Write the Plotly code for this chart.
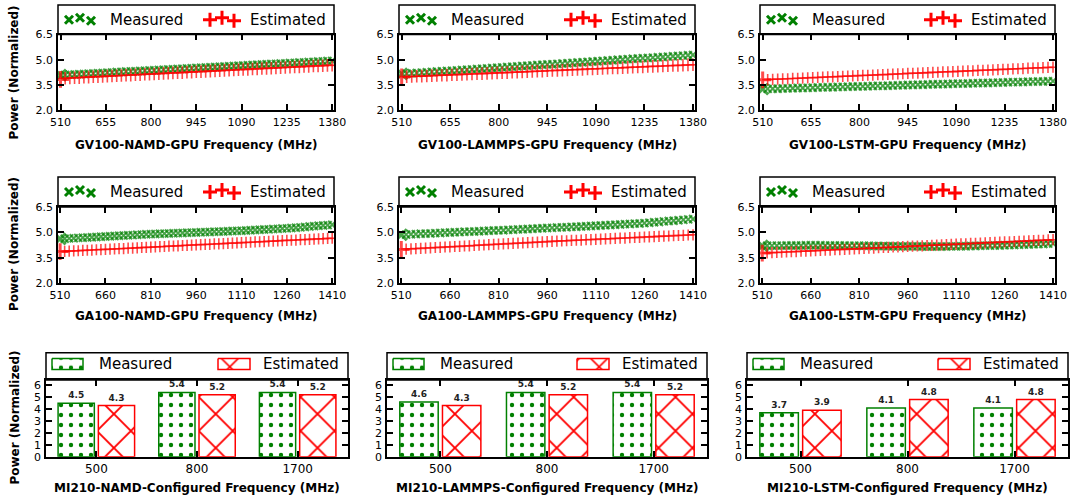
import plotly.graph_objects as go

W, H = 1072, 502
GREEN = "#008000"
RED = "#ff0000"
FONT = "DejaVu Sans"

# ---------------- data ----------------
gv100_freq = [510, 525, 540, 555, 570, 585, 600, 615, 630, 645,
              660, 675, 690, 705, 720, 735, 750, 765, 780, 795,
              810, 825, 840, 855, 870, 885, 900, 915, 930, 945,
              960, 975, 990, 1005, 1020, 1035, 1050, 1065, 1080, 1095,
              1110, 1125, 1140, 1155, 1170, 1185, 1200, 1215, 1230, 1245,
              1260, 1275, 1290, 1305, 1320, 1335, 1350, 1365, 1380]

gv100_namd_meas = [4.08, 4.09, 4.11, 4.12, 4.14, 4.15, 4.17, 4.18, 4.20, 4.21,
                   4.23, 4.24, 4.26, 4.27, 4.29, 4.30, 4.31, 4.33, 4.34, 4.36,
                   4.37, 4.39, 4.40, 4.42, 4.43, 4.45, 4.46, 4.48, 4.49, 4.51,
                   4.52, 4.53, 4.55, 4.56, 4.58, 4.59, 4.61, 4.62, 4.64, 4.65,
                   4.67, 4.68, 4.70, 4.71, 4.73, 4.74, 4.75, 4.77, 4.78, 4.80,
                   4.81, 4.83, 4.84, 4.86, 4.87, 4.89, 4.90, 4.92, 4.93]
gv100_namd_est = [3.82, 3.89, 3.91, 3.92, 3.93, 3.95, 3.96, 3.98, 3.99, 4.00,
                  4.02, 4.03, 4.04, 4.06, 4.07, 4.08, 4.10, 4.11, 4.13, 4.14,
                  4.15, 4.17, 4.18, 4.19, 4.21, 4.22, 4.23, 4.25, 4.26, 4.28,
                  4.29, 4.30, 4.32, 4.33, 4.34, 4.36, 4.37, 4.38, 4.40, 4.41,
                  4.42, 4.44, 4.45, 4.47, 4.48, 4.49, 4.51, 4.52, 4.53, 4.55,
                  4.56, 4.57, 4.59, 4.60, 4.62, 4.63, 4.64, 4.66, 4.67]

gv100_lammps_meas = [4.15, 4.17, 4.19, 4.21, 4.23, 4.25, 4.27, 4.29, 4.31, 4.33,
                     4.34, 4.36, 4.38, 4.40, 4.42, 4.44, 4.46, 4.48, 4.50, 4.52,
                     4.54, 4.56, 4.58, 4.60, 4.62, 4.64, 4.66, 4.68, 4.70, 4.72,
                     4.73, 4.75, 4.77, 4.79, 4.81, 4.83, 4.85, 4.87, 4.89, 4.91,
                     4.93, 4.95, 4.97, 4.99, 5.01, 5.03, 5.05, 5.07, 5.09, 5.10,
                     5.12, 5.14, 5.16, 5.18, 5.20, 5.22, 5.24, 5.26, 5.28]
gv100_lammps_est = [3.97, 3.98, 4.00, 4.01, 4.02, 4.03, 4.05, 4.06, 4.07, 4.08,
                    4.10, 4.11, 4.12, 4.13, 4.15, 4.16, 4.17, 4.18, 4.20, 4.21,
                    4.22, 4.23, 4.25, 4.26, 4.27, 4.28, 4.30, 4.31, 4.32, 4.34,
                    4.35, 4.36, 4.37, 4.39, 4.40, 4.41, 4.42, 4.44, 4.45, 4.46,
                    4.47, 4.49, 4.50, 4.51, 4.52, 4.54, 4.55, 4.56, 4.57, 4.59,
                    4.60, 4.61, 4.62, 4.64, 4.65, 4.66, 4.67, 4.69, 4.70]

gv100_lstm_meas = [3.25, 3.26, 3.27, 3.27, 3.28, 3.29, 3.30, 3.31, 3.31, 3.32,
                   3.33, 3.34, 3.35, 3.36, 3.36, 3.37, 3.38, 3.39, 3.40, 3.40,
                   3.41, 3.42, 3.43, 3.44, 3.44, 3.45, 3.46, 3.47, 3.48, 3.49,
                   3.49, 3.50, 3.51, 3.52, 3.53, 3.53, 3.54, 3.55, 3.56, 3.57,
                   3.57, 3.58, 3.59, 3.60, 3.61, 3.61, 3.62, 3.63, 3.64, 3.65,
                   3.66, 3.66, 3.67, 3.68, 3.69, 3.70, 3.70, 3.71, 3.72]
gv100_lstm_est = [3.80, 3.81, 3.83, 3.84, 3.85, 3.86, 3.88, 3.89, 3.90, 3.92,
                  3.93, 3.94, 3.96, 3.97, 3.98, 3.99, 4.01, 4.02, 4.03, 4.05,
                  4.06, 4.07, 4.08, 4.10, 4.11, 4.12, 4.14, 4.15, 4.16, 4.18,
                  4.19, 4.20, 4.21, 4.23, 4.24, 4.25, 4.27, 4.28, 4.29, 4.30,
                  4.32, 4.33, 4.34, 4.36, 4.37, 4.38, 4.39, 4.41, 4.42, 4.43,
                  4.45, 4.46, 4.47, 4.49, 4.50, 4.51, 4.52, 4.54, 4.55]

ga100_freq = [510, 525, 540, 555, 570, 585, 600, 615, 630, 645,
              660, 675, 690, 705, 720, 735, 750, 765, 780, 795,
              810, 825, 840, 855, 870, 885, 900, 915, 930, 945,
              960, 975, 990, 1005, 1020, 1035, 1050, 1065, 1080, 1095,
              1110, 1125, 1140, 1155, 1170, 1185, 1200, 1215, 1230, 1245,
              1260, 1275, 1290, 1305, 1320, 1335, 1350, 1365, 1380, 1395,
              1410]

ga100_namd_meas = [4.62, 4.63, 4.65, 4.66, 4.68, 4.69, 4.70, 4.72, 4.73, 4.75,
                   4.76, 4.77, 4.79, 4.80, 4.82, 4.83, 4.84, 4.86, 4.87, 4.89,
                   4.90, 4.91, 4.92, 4.93, 4.94, 4.95, 4.96, 4.97, 4.98, 4.99,
                   5.00, 5.01, 5.02, 5.03, 5.04, 5.05, 5.06, 5.07, 5.08, 5.09,
                   5.10, 5.11, 5.13, 5.14, 5.16, 5.17, 5.18, 5.20, 5.21, 5.23,
                   5.24, 5.26, 5.28, 5.30, 5.32, 5.35, 5.37, 5.39, 5.41, 5.43,
                   5.45]
ga100_namd_est = [3.87, 3.88, 3.90, 3.91, 3.92, 3.94, 3.95, 3.96, 3.98, 3.99,
                  4.00, 4.01, 4.03, 4.04, 4.05, 4.07, 4.08, 4.09, 4.11, 4.12,
                  4.13, 4.15, 4.16, 4.17, 4.19, 4.20, 4.21, 4.23, 4.24, 4.25,
                  4.27, 4.28, 4.29, 4.30, 4.32, 4.33, 4.34, 4.36, 4.37, 4.38,
                  4.40, 4.41, 4.42, 4.44, 4.45, 4.46, 4.48, 4.49, 4.50, 4.52,
                  4.53, 4.54, 4.55, 4.57, 4.58, 4.59, 4.61, 4.62, 4.63, 4.65,
                  4.66]

ga100_lammps_meas = [4.86, 4.87, 4.89, 4.90, 4.92, 4.93, 4.94, 4.96, 4.97, 4.99,
                     5.00, 5.01, 5.02, 5.04, 5.05, 5.06, 5.07, 5.08, 5.10, 5.11,
                     5.12, 5.13, 5.15, 5.16, 5.18, 5.19, 5.20, 5.22, 5.23, 5.25,
                     5.26, 5.27, 5.29, 5.30, 5.31, 5.33, 5.34, 5.35, 5.36, 5.38,
                     5.39, 5.41, 5.42, 5.44, 5.45, 5.47, 5.49, 5.50, 5.52, 5.53,
                     5.55, 5.57, 5.60, 5.62, 5.65, 5.67, 5.69, 5.72, 5.74, 5.77,
                     5.79]
ga100_lammps_est = [4.00, 4.02, 4.03, 4.05, 4.06, 4.08, 4.09, 4.11, 4.12, 4.14,
                    4.15, 4.17, 4.18, 4.20, 4.21, 4.23, 4.25, 4.26, 4.28, 4.29,
                    4.31, 4.32, 4.34, 4.35, 4.37, 4.38, 4.40, 4.41, 4.43, 4.44,
                    4.46, 4.47, 4.49, 4.50, 4.51, 4.53, 4.54, 4.55, 4.57, 4.58,
                    4.59, 4.61, 4.62, 4.63, 4.65, 4.66, 4.67, 4.69, 4.70, 4.71,
                    4.73, 4.74, 4.75, 4.77, 4.78, 4.79, 4.81, 4.82, 4.83, 4.85,
                    4.86]

ga100_lstm_meas = [4.21, 4.21, 4.22, 4.22, 4.22, 4.23, 4.23, 4.23, 4.23, 4.24,
                   4.24, 4.24, 4.24, 4.23, 4.23, 4.23, 4.23, 4.23, 4.22, 4.22,
                   4.22, 4.21, 4.21, 4.20, 4.20, 4.20, 4.19, 4.19, 4.18, 4.18,
                   4.18, 4.18, 4.18, 4.17, 4.17, 4.17, 4.17, 4.17, 4.17, 4.18,
                   4.18, 4.19, 4.19, 4.20, 4.20, 4.21, 4.22, 4.22, 4.23, 4.23,
                   4.24, 4.25, 4.26, 4.27, 4.28, 4.29, 4.30, 4.31, 4.32, 4.34,
                   4.35]
ga100_lstm_est = [3.78, 3.79, 3.81, 3.82, 3.83, 3.85, 3.86, 3.87, 3.89, 3.90,
                  3.91, 3.92, 3.94, 3.95, 3.96, 3.98, 3.99, 4.00, 4.02, 4.03,
                  4.04, 4.06, 4.07, 4.08, 4.10, 4.11, 4.12, 4.14, 4.15, 4.16,
                  4.18, 4.19, 4.20, 4.21, 4.23, 4.24, 4.25, 4.27, 4.28, 4.29,
                  4.31, 4.32, 4.33, 4.35, 4.36, 4.37, 4.39, 4.40, 4.41, 4.43,
                  4.44, 4.45, 4.46, 4.48, 4.49, 4.50, 4.52, 4.53, 4.54, 4.56,
                  4.57]

mi210_freq = ["500", "800", "1700"]
mi210_namd_meas = [4.5, 5.4, 5.4]
mi210_namd_est = [4.3, 5.2, 5.2]
mi210_lammps_meas = [4.6, 5.4, 5.4]
mi210_lammps_est = [4.3, 5.2, 5.2]
mi210_lstm_meas = [3.7, 4.1, 4.1]
mi210_lstm_est = [3.9, 4.8, 4.8]

line_yticks = [2.0, 3.5, 5.0, 6.5]
gv100_xticks = [510, 655, 800, 945, 1090, 1235, 1380]
ga100_xticks = [510, 660, 810, 960, 1110, 1260, 1410]
bar_yticks = [0, 1, 2, 3, 4, 5, 6]

series_names = ["Measured", "Estimated"]
y_title = "Power (Normalized)"

for a, b in [(gv100_freq, gv100_namd_meas), (gv100_freq, gv100_namd_est),
             (gv100_freq, gv100_lammps_meas), (gv100_freq, gv100_lammps_est),
             (gv100_freq, gv100_lstm_meas), (gv100_freq, gv100_lstm_est),
             (ga100_freq, ga100_namd_meas), (ga100_freq, ga100_namd_est),
             (ga100_freq, ga100_lammps_meas), (ga100_freq, ga100_lammps_est),
             (ga100_freq, ga100_lstm_meas), (ga100_freq, ga100_lstm_est)]:
    assert len(a) == len(b), (len(a), len(b))

# ---------------- layout geometry (pixels) ----------------
line_cols = [(58, 334), (399, 695), (760, 1055)]
bar_cols = [(46, 348), (387, 707), (747, 1068)]
rows = [
    dict(leg=5, top=34.5, bot=110, xt=145, yt=72.5),
    dict(leg=177, top=207, bot=283.3, xt=315.7, yt=244),
    dict(leg=352.7, top=380, bot=456.7, xt=488.3, yt=417.5),
]

panels = [
    dict(r=0, c=0, kind="line", x=gv100_freq, m=gv100_namd_meas, e=gv100_namd_est,
         ticks=gv100_xticks, rng=[502, 1386], est_size=9, title="GV100-NAMD-GPU Frequency (MHz)"),
    dict(r=0, c=1, kind="line", x=gv100_freq, m=gv100_lammps_meas, e=gv100_lammps_est,
         ticks=gv100_xticks, rng=[502, 1386], est_size=9, title="GV100-LAMMPS-GPU Frequency (MHz)"),
    dict(r=0, c=2, kind="line", x=gv100_freq, m=gv100_lstm_meas, e=gv100_lstm_est,
         ticks=gv100_xticks, rng=[502, 1386], est_size=8, title="GV100-LSTM-GPU Frequency (MHz)"),
    dict(r=1, c=0, kind="line", x=ga100_freq, m=ga100_namd_meas, e=ga100_namd_est,
         ticks=ga100_xticks, rng=[503, 1416], est_size=8, title="GA100-NAMD-GPU Frequency (MHz)"),
    dict(r=1, c=1, kind="line", x=ga100_freq, m=ga100_lammps_meas, e=ga100_lammps_est,
         ticks=ga100_xticks, rng=[503, 1416], est_size=8, title="GA100-LAMMPS-GPU Frequency (MHz)"),
    dict(r=1, c=2, kind="line", x=ga100_freq, m=ga100_lstm_meas, e=ga100_lstm_est,
         ticks=ga100_xticks, rng=[503, 1416], est_size=8, title="GA100-LSTM-GPU Frequency (MHz)"),
    dict(r=2, c=0, kind="bar", x=mi210_freq, m=mi210_namd_meas, e=mi210_namd_est,
         title="MI210-NAMD-Configured Frequency (MHz)"),
    dict(r=2, c=1, kind="bar", x=mi210_freq, m=mi210_lammps_meas, e=mi210_lammps_est,
         title="MI210-LAMMPS-Configured Frequency (MHz)"),
    dict(r=2, c=2, kind="bar", x=mi210_freq, m=mi210_lstm_meas, e=mi210_lstm_est,
         title="MI210-LSTM-Configured Frequency (MHz)"),
]


def sfx(k):
    return "" if k == 1 else str(k)


fig = go.Figure()
layout = {}
shapes = []
annotations = []

for k, p in enumerate(panels, start=1):
    R = rows[p["r"]]
    x0, x1 = (line_cols if p["kind"] == "line" else bar_cols)[p["c"]]
    xa, ya = "x" + sfx(k), "y" + sfx(k)
    common = dict(showline=True, linecolor="black", linewidth=1.5, mirror="ticks",
                  ticks="inside", ticklen=6, tickwidth=1.5, tickcolor="black",
                  showgrid=False, zeroline=False, fixedrange=True, automargin=False)
    if p["kind"] == "line":
        layout["xaxis" + sfx(k)] = dict(
            domain=[x0 / W, x1 / W], anchor=ya, range=p["rng"], tickvals=p["ticks"],
            tickfont=dict(size=11, family=FONT, color="black"), ticklabelstandoff=1, **common)
        layout["yaxis" + sfx(k)] = dict(
            domain=[1 - R["bot"] / H, 1 - R["top"] / H], anchor=xa, range=[2.0, 6.5],
            tickvals=line_yticks, tickformat=".1f",
            tickfont=dict(size=11, family=FONT, color="black"), ticklabelstandoff=1, **common)
        n = len(p["x"])
        fig.add_trace(go.Scatter(
            x=p["x"], y=p["m"], mode="markers", xaxis=xa, yaxis=ya, showlegend=False,
            marker=dict(symbol="x-thin", size=[11] + [8] * (n - 1), color=GREEN,
                        line=dict(color=GREEN, width=[3] + [2] * (n - 1)))))
        es = p["est_size"]
        fig.add_trace(go.Scatter(
            x=p["x"], y=p["e"], mode="markers", xaxis=xa, yaxis=ya, showlegend=False,
            marker=dict(symbol="cross-thin", size=[12] + [es] * (n - 1), color=RED,
                        line=dict(color=RED, width=[3] + [1.6] * (n - 1)))))
    else:
        layout["xaxis" + sfx(k)] = dict(
            domain=[x0 / W, x1 / W], anchor=ya, type="category", range=[-0.5, 2.5],
            tickfont=dict(size=12, family=FONT, color="black"), ticklabelstandoff=0, **common)
        layout["yaxis" + sfx(k)] = dict(
            domain=[1 - R["bot"] / H, 1 - R["top"] / H], anchor=xa, range=[0, 6.45],
            tickvals=bar_yticks,
            tickfont=dict(size=11, family=FONT, color="black"), ticklabelstandoff=1, **common)
        for vals, col, shp, sz, sol in [(p["m"], GREEN, ".", 10, 0.15),
                                        (p["e"], RED, "x", 24, 0.15)]:
            fig.add_trace(go.Bar(
                x=p["x"], y=vals, xaxis=xa, yaxis=ya, showlegend=False,
                marker=dict(color="white", line=dict(color=col, width=1.5),
                            pattern=dict(shape=shp, fgcolor=col, bgcolor="white",
                                         size=sz, solidity=sol)),
                texttemplate="<b>%{y:.1f}</b>", textposition="outside",
                textfont=dict(size=9, family=FONT, color="#222222"),
                cliponaxis=False))

    # x title
    annotations.append(dict(text="<b>%s</b>" % p["title"], xref="paper", yref="paper",
                            x=(x0 + x1) / 2 / W, y=1 - R["xt"] / H, xanchor="center",
                            yanchor="middle", showarrow=False,
                            font=dict(size=12, family=FONT, color="black")))

    # legend box (own hidden axes with pixel ranges)
    lk = k + 9
    lxa, lya = "x" + str(lk), "y" + str(lk)
    w = x1 - x0
    hh = R["top"] - R["leg"]
    layout["xaxis" + str(lk)] = dict(domain=[x0 / W, x1 / W], anchor=lya, range=[0, w],
                                     visible=False, fixedrange=True, automargin=False)
    layout["yaxis" + str(lk)] = dict(domain=[1 - R["top"] / H, 1 - R["leg"] / H], anchor=lxa,
                                     range=[hh, 0], visible=False, fixedrange=True,
                                     automargin=False)
    shapes.append(dict(type="rect", xref="paper", yref="paper", x0=x0 / W, x1=x1 / W,
                       y0=1 - R["top"] / H, y1=1 - R["leg"] / H,
                       line=dict(color="black", width=1.5), fillcolor="rgba(0,0,0,0)"))
    if p["kind"] == "line":
        mid = hh / 2
        fig.add_trace(go.Scatter(
            x=[11, 22, 33], y=[mid, mid - 2, mid + 1], mode="markers", xaxis=lxa, yaxis=lya,
            showlegend=False, cliponaxis=False,
            marker=dict(symbol="x-thin", size=8, color=GREEN, line=dict(color=GREEN, width=3))))
        fig.add_trace(go.Scatter(
            x=[w - 124, w - 112, w - 100], y=[mid, mid - 2, mid + 1], mode="markers",
            xaxis=lxa, yaxis=lya, showlegend=False, cliponaxis=False,
            marker=dict(symbol="cross-thin", size=10, color=RED, line=dict(color=RED, width=3))))
        tx_l, tx_r = 50, w - 6.5
    else:
        mid = 11.2
        for (a, b), col, shp, sz, sol in [((6, 37), GREEN, ".", 10, 0.15),
                                          ((w - 130, w - 98), RED, "x", 20, 0.15)]:
            fig.add_trace(go.Scatter(
                x=[a, b, b, a, a], y=[mid - 5.5, mid - 5.5, mid + 5.5, mid + 5.5, mid - 5.5],
                mode="lines", fill="toself", fillcolor="white", xaxis=lxa, yaxis=lya,
                showlegend=False, line=dict(color=col, width=1.5),
                fillpattern=dict(shape=shp, fgcolor=col, bgcolor="white", size=sz,
                                 solidity=sol)))
        tx_l, tx_r = 51, w - 7
    annotations.append(dict(text=series_names[0], xref=lxa, yref=lya, x=tx_l, y=mid,
                            xanchor="left", yanchor="middle", showarrow=False,
                            font=dict(size=15, family=FONT, color="black")))
    annotations.append(dict(text=series_names[1], xref=lxa, yref=lya, x=tx_r, y=mid,
                            xanchor="right", yanchor="middle", showarrow=False,
                            font=dict(size=15, family=FONT, color="black")))

# y titles
for R in rows:
    annotations.append(dict(text="<b>%s</b>" % y_title, xref="paper", yref="paper",
                            x=14 / W, y=1 - R["yt"] / H, xanchor="center", yanchor="middle",
                            textangle=-90, showarrow=False,
                            font=dict(size=12, family=FONT, color="black")))

fig.update_layout(
    template="none",
    width=W, height=H, margin=dict(l=0, r=0, t=0, b=0, pad=0, autoexpand=False),
    plot_bgcolor="white", paper_bgcolor="white",
    font=dict(family=FONT, color="black"),
    showlegend=False, barmode="group", bargap=0.2, bargroupgap=0.1,
    shapes=shapes, annotations=annotations, **layout)

fig.write_html("out.html", config={"displayModeBar": False},
               post_script="document.body.style.margin='0';")
